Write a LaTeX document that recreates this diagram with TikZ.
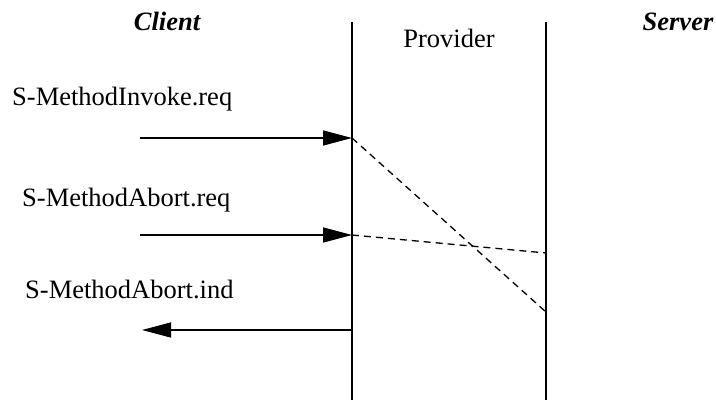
\documentclass[tikz,border=0pt]{standalone}
\usepackage{fontspec}
\setmainfont{Liberation Serif}
\usetikzlibrary{arrows.meta}
\begin{document}
\begin{tikzpicture}[x=1pt,y=-1pt,
  lifeline/.style={line width=1.5pt},
  msg/.style={line width=1.5pt,-{Triangle[length=29pt,width=15pt]}},
  ghost/.style={line width=1.3pt,dash pattern=on 7pt off 5pt},
  lbl/.style={font=\fontsize{26.5}{30}\selectfont,inner sep=0pt},
  role/.style={font=\fontsize{26.5}{30}\selectfont\bfseries\itshape,inner sep=0pt}]
\useasboundingbox (0,0) rectangle (716,400);
\coordinate (pt) at (352,22);
\coordinate (pb) at (352,400);
\coordinate (st) at (546,22);
\coordinate (sb) at (546,400);
\draw[lifeline] (pt) -- (pb);
\draw[lifeline] (st) -- (sb);
\node[role,anchor=base] (client) at (167,30) {Client};
\node[role,anchor=base] (server) at (678,30) {Server};
\node[lbl,anchor=base] (provider) at (449,47) {Provider};
\node[lbl,anchor=base west] (l1) at (12,105) {S-MethodInvoke.req};
\node[lbl,anchor=base west] (l2) at (22,206) {S-MethodAbort.req};
\node[lbl,anchor=base west] (l3) at (25,298) {S-MethodAbort.ind};
\coordinate (a1s) at (140,138);
\coordinate (a1e) at (352,138);
\coordinate (a2s) at (140,235);
\coordinate (a2e) at (352,235);
\coordinate (a3s) at (352,330);
\coordinate (a3e) at (142,330);
\coordinate (d1e) at (546,312);
\coordinate (d2e) at (546,253);
\draw[msg] (a1s) -- (a1e);
\draw[msg] (a2s) -- (a2e);
\draw[msg] (a3s) -- (a3e);
\draw[ghost] (a1e) -- (d1e);
\draw[ghost] (a2e) -- (d2e);
\end{tikzpicture}
\end{document}
